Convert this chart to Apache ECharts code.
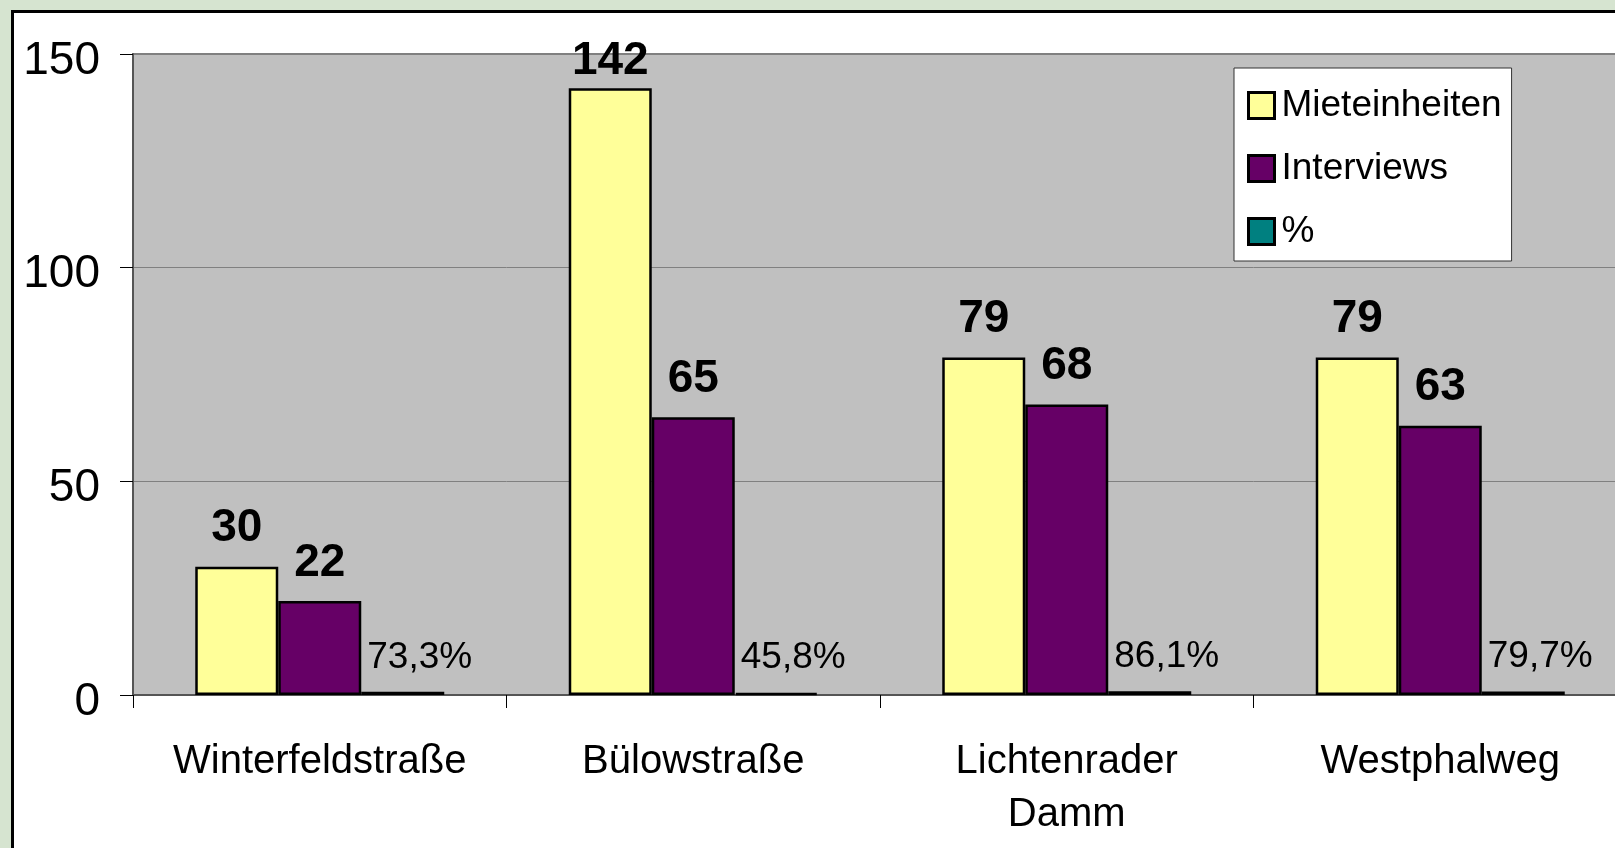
<!DOCTYPE html>
<html>
<head>
<meta charset="utf-8">
<script src="https://cdn.jsdelivr.net/npm/echarts@6/dist/echarts.min.js"></script>
<style>
  html, body { margin: 0; padding: 0; background: #d6e4d0; overflow: hidden; }
  #frame { position: absolute; left: 11px; top: 10px; width: 1700px; height: 900px;
           background: #ffffff; border: 3px solid #000; }
  #main { position: absolute; left: 0; top: 0; width: 1660px; height: 848px; }
</style>
</head>
<body>
<div id="frame"></div>
<div id="main"></div>
<script>
// Kategorien (Standorte)
var streets = ['Winterfeldstraße', 'Bülowstraße', 'Lichtenrader\nDamm', 'Westphalweg'];
// Werte
var mieteinheiten = [30, 142, 79, 79];
var interviews = [22, 65, 68, 63];
var quote = [0.733, 0.458, 0.861, 0.797];
// Y-Achse
var yTicks = [0, 50, 100, 150];

var FONT = "'Liberation Sans', Arial, sans-serif";

var valueLabel = {
  show: true,
  position: 'top',
  distance: 15,
  fontFamily: FONT,
  fontSize: 46,
  fontWeight: 'bold',
  color: '#000'
};

// Beschriftung nahe am oberen Rand etwas näher an den Balken setzen
function withLabels(values) {
  return values.map(function (v) {
    return v > 140 ? { value: v, label: { distance: 4 } } : v;
  });
}

var myChart = echarts.init(document.getElementById('main'), null, { renderer: 'canvas' });

var option = {
  backgroundColor: 'transparent',
  animation: false,
  textStyle: { fontFamily: FONT },
  grid: {
    left: 133,
    top: 54,
    right: 33,
    bottom: 153,
    show: true,
    backgroundColor: '#c0c0c0',
    borderColor: '#808080',
    borderWidth: 2
  },
  legend: {
    orient: 'vertical',
    left: 1234,
    top: 68,
    padding: [19, 10, 11, 13],
    itemWidth: 26,
    itemHeight: 26,
    itemGap: 26,
    icon: 'rect',
    backgroundColor: '#ffffff',
    borderColor: '#333',
    borderWidth: 1,
    borderRadius: 0,
    itemStyle: { borderColor: '#000', borderWidth: 3 },
    textStyle: { fontFamily: FONT, fontSize: 37, color: '#000', padding: [0, 0, 0, 2] },
    data: ['Mieteinheiten', 'Interviews', '%']
  },
  xAxis: {
    type: 'category',
    data: streets,
    axisLine: { lineStyle: { color: '#555', width: 2 } },
    axisTick: { show: true, length: 13, lineStyle: { color: '#000', width: 1 } },
    axisLabel: {
      margin: 40,
      fontFamily: FONT,
      fontSize: 40,
      lineHeight: 53,
      color: '#000',
      interval: 0
    }
  },
  yAxis: {
    type: 'value',
    min: yTicks[0],
    max: yTicks[yTicks.length - 1],
    interval: yTicks[1] - yTicks[0],
    axisLine: { show: true, lineStyle: { color: '#555', width: 2 } },
    axisTick: { show: true, length: 13, lineStyle: { color: '#000', width: 1 } },
    axisLabel: {
      margin: 33,
      color: '#000',
      verticalAlign: 'middle',
      formatter: '{v|{value}}',
      rich: {
        v: { fontFamily: FONT, fontSize: 46, color: '#000', padding: [14, 0, 0, 0] }
      }
    },
    splitLine: { show: true, lineStyle: { color: '#808080', width: 1 } }
  },
  series: [
    {
      name: 'Mieteinheiten',
      type: 'bar',
      barWidth: 83,
      barGap: '0%',
      data: withLabels(mieteinheiten),
      itemStyle: { color: '#ffff99', borderColor: '#000', borderWidth: 2.5 },
      label: valueLabel
    },
    {
      name: 'Interviews',
      type: 'bar',
      barWidth: 83,
      barGap: '0%',
      data: withLabels(interviews),
      itemStyle: { color: '#660066', borderColor: '#000', borderWidth: 2.5 },
      label: valueLabel
    },
    {
      name: '%',
      type: 'bar',
      barWidth: 83,
      barGap: '0%',
      data: quote,
      itemStyle: { color: '#008080', borderColor: '#000', borderWidth: 2.5 },
      label: {
        show: true,
        position: 'top',
        distance: 16,
        offset: [17, 0],
        fontFamily: FONT,
        fontSize: 37,
        color: '#000',
        formatter: function (p) {
          return (p.value * 100).toFixed(1).replace('.', ',') + '%';
        }
      }
    }
  ]
};

myChart.setOption(option);
</script>
</body>
</html>
